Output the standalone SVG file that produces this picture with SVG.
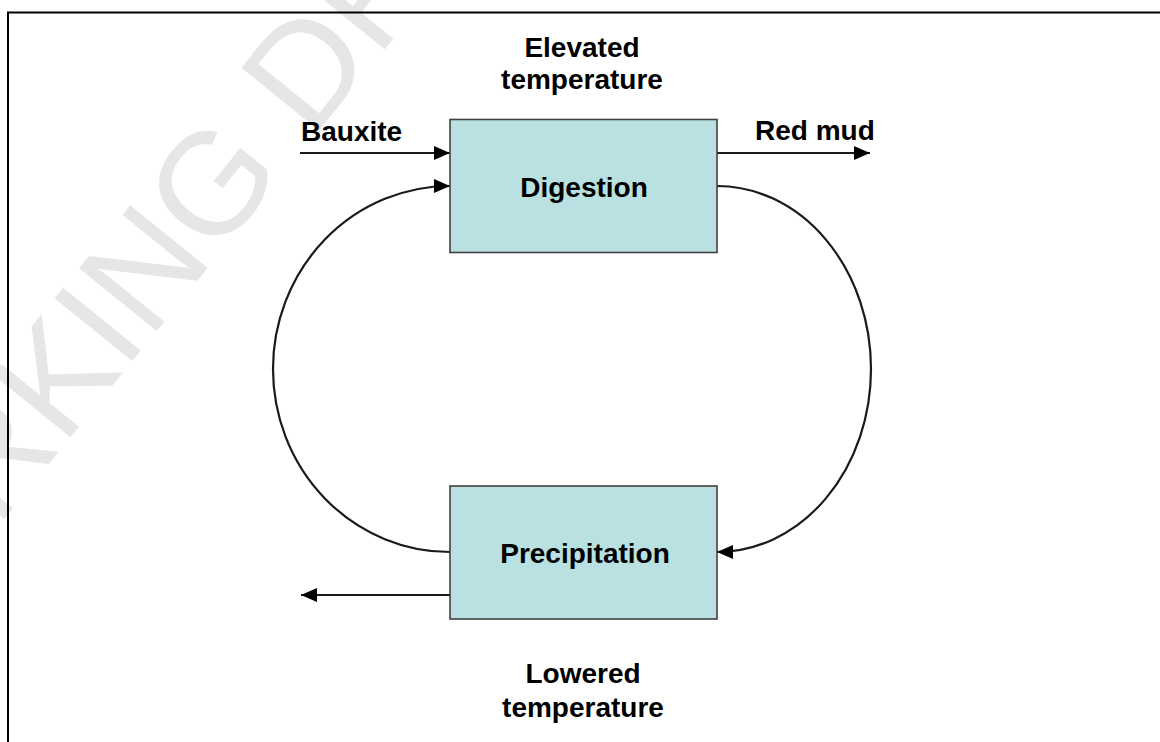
<svg xmlns="http://www.w3.org/2000/svg" width="1160" height="742" viewBox="0 0 1160 742">
<style>
.lbl{font-family:"Liberation Sans",Arial,sans-serif;font-weight:bold;font-size:28px;fill:#000}
.box{fill:#b9e1e1;stroke:#404040;stroke-width:1.6}
.wire{fill:none;stroke:#1a1a1a;stroke-width:2.2}
.wm{font-family:"Liberation Sans",Arial,sans-serif;font-size:145px;fill:#e6e6e6}
</style>
<defs>
<marker id="ah" viewBox="0 0 16 14" refX="16" refY="7" markerWidth="16" markerHeight="14" markerUnits="userSpaceOnUse" orient="auto">
<path d="M0,0 L16,7 L0,14 z" fill="#000"/>
</marker>
</defs>
<rect width="1160" height="742" fill="#fff"/>
<text class="wm" x="-160" y="722" transform="rotate(-51 -160 722)">WORKING DRAFT</text>
<path d="M8,742 V12.5 H1160" fill="none" stroke="#000" stroke-width="2"/>
<g id="connectors">
<path class="wire" d="M300,153 H450" marker-end="url(#ah)"/>
<path class="wire" d="M717,153 H870" marker-end="url(#ah)"/>
<path class="wire" d="M717,186 A154,183 0 0 1 717,552" marker-end="url(#ah)"/>
<path class="wire" d="M450,552 A177,183 0 0 1 450,186" marker-end="url(#ah)"/>
<path class="wire" d="M450,595 H301" marker-end="url(#ah)"/>
</g>
<g id="digestion">
<rect class="box" x="450" y="119.5" width="267" height="133"/>
<text class="lbl" x="584" y="197" text-anchor="middle">Digestion</text>
</g>
<g id="precipitation">
<rect class="box" x="450" y="486" width="267" height="133"/>
<text class="lbl" x="585" y="563" text-anchor="middle">Precipitation</text>
</g>
<g id="labels">
<text class="lbl" x="582" y="57" text-anchor="middle">Elevated</text>
<text class="lbl" x="582" y="89" text-anchor="middle">temperature</text>
<text class="lbl" x="301" y="141">Bauxite</text>
<text class="lbl" x="755" y="140">Red mud</text>
<text class="lbl" x="583" y="683" text-anchor="middle">Lowered</text>
<text class="lbl" x="583" y="717" text-anchor="middle">temperature</text>
</g>
</svg>
